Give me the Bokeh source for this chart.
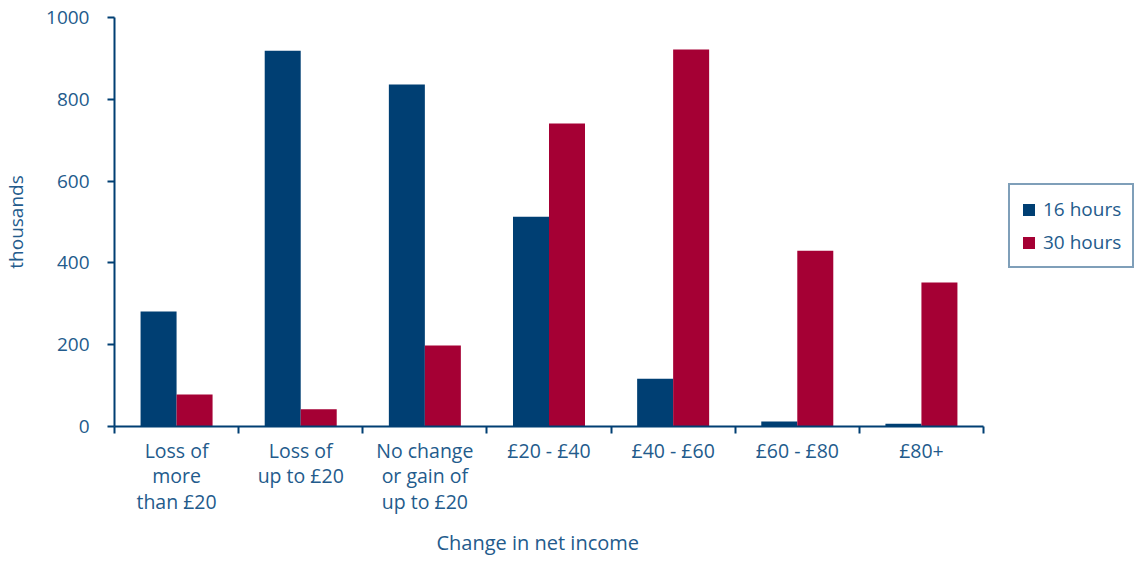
from bokeh.plotting import figure
from bokeh.models import ColumnDataSource, FixedTicker, Range1d, Legend, LegendItem, Title
from bokeh.transform import dodge
from bokeh.embed import file_html
from bokeh.resources import INLINE

categories = ["Loss of\nmore\nthan £20", "Loss of\nup to £20", "No change\nor gain of\nup to £20",
              "£20 - £40", "£40 - £60", "£60 - £80", "£80+"]
series_names = ["16 hours", "30 hours"]
hours16 = [281, 919, 836, 513, 117, 12, 7]
hours30 = [78, 42, 198, 741, 922, 430, 352]
y_ticks = [0, 200, 400, 600, 800, 1000]
x_title = "Change in net income"

BLUE = "#003f73"
RED = "#a50034"
TXT = "#235b8c"
FONT = "Open Sans"

n = len(categories)
centers = [i + 0.5 for i in range(n)]
src = ColumnDataSource(dict(x=centers, h16=hours16, h30=hours30))

W, H = 1140, 564
left, axis_right = 114, 983
x_end = n * (W - left) / (axis_right - left)   # extra room on the right for the legend

p = figure(width=W, height=H, output_backend="svg", toolbar_location=None,
           x_range=Range1d(0, x_end), y_range=Range1d(0, 1000),
           min_border_left=left, min_border_right=0, min_border_top=17, min_border_bottom=138)
p.outline_line_color = None
p.grid.grid_line_color = None

bw = 0.29
r1 = p.vbar(x=dodge("x", -bw / 2), top="h16", width=bw, source=src, fill_color=BLUE, line_color=None)
r2 = p.vbar(x=dodge("x", bw / 2), top="h30", width=bw, source=src, fill_color=RED, line_color=None)

# x axis: labels at category centers, ticks at boundaries (minor ticks)
xa = p.xaxis[0]
xa.bounds = (0, n)
xa.ticker = FixedTicker(ticks=centers, minor_ticks=list(range(n + 1)))
xa.major_label_overrides = {c: lab for c, lab in zip(centers, categories)}
xa.major_tick_out = 0
xa.major_tick_in = 0
xa.minor_tick_out = 7
xa.minor_tick_in = 0
xa.minor_tick_line_color = BLUE
xa.minor_tick_line_width = 2
xa.axis_line_color = BLUE
xa.axis_line_width = 2
xa.major_label_text_font = FONT
xa.major_label_text_font_size = "19.5px"
xa.major_label_text_color = TXT
xa.major_label_text_line_height = 0.95
xa.major_label_standoff = 3

p.add_layout(Title(text=x_title, align="left", offset=322, standoff=18,
                   text_font=FONT, text_font_size="20px", text_font_style="normal",
                   text_line_height=0.55, text_color=TXT), "below")

ya = p.yaxis[0]
ya.ticker = FixedTicker(ticks=y_ticks, minor_ticks=[])
ya.major_tick_out = 7
ya.major_tick_in = 0
ya.major_tick_line_color = BLUE
ya.major_tick_line_width = 2
ya.axis_line_color = BLUE
ya.axis_line_width = 2
ya.major_label_text_font = FONT
ya.major_label_text_font_size = "19px"
ya.major_label_text_color = TXT
ya.major_label_standoff = 18
ya.axis_label = "thousands"
ya.axis_label_text_font = FONT
ya.axis_label_text_font_size = "19px"
ya.axis_label_text_font_style = "normal"
ya.axis_label_text_color = TXT
ya.axis_label_standoff = 14

legend = Legend(items=[LegendItem(label=series_names[0], renderers=[r1]),
                       LegendItem(label=series_names[1], renderers=[r2])],
                location=(1008 - left, 158))
legend.border_line_color = BLUE
legend.border_line_width = 2
legend.background_fill_color = "white"
legend.label_text_font = FONT
legend.label_text_font_size = "19px"
legend.label_text_color = TXT
legend.glyph_width = 15
legend.glyph_height = 15
legend.label_height = 20
legend.label_standoff = 7
legend.spacing = 7
legend.padding = 11
legend.margin = 0
p.add_layout(legend, "center")

open("out.html", "w").write(file_html(p, INLINE))
